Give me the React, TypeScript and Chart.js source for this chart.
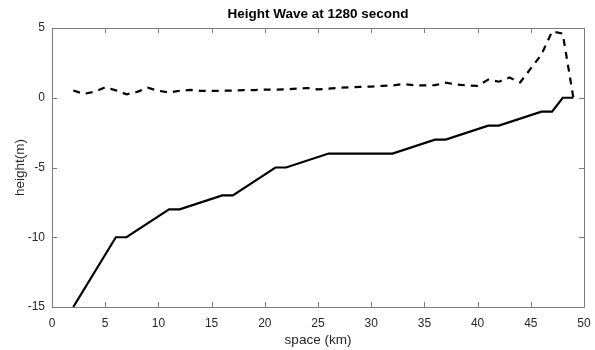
import React, { useEffect, useRef } from "react";
import { Chart, registerables } from "chart.js";

Chart.register(...registerables);

const titleText = "Height Wave at 1280 second";
const xLabel = "space (km)";
const yLabel = "height(m)";

const xTicks = [0, 5, 10, 15, 20, 25, 30, 35, 40, 45, 50];
const yTicks = [-15, -10, -5, 0, 5];

const groundX = [2, 6, 7, 11, 12, 16, 17, 21, 22, 26, 32, 36, 37, 41, 42, 46, 47, 48, 49];
const groundY = [-15, -10, -10, -8, -8, -7, -7, -5, -5, -4, -4, -3, -3, -2, -2, -1, -1, 0, 0];

const waveX = [2, 3, 4, 5, 6, 7, 8, 9, 10, 11, 12, 13, 14, 15, 16, 17, 18, 19, 20, 21, 22, 23, 24, 25,
  26, 27, 28, 29, 30, 31, 32, 33, 34, 35, 36, 37, 38, 39, 40, 41, 42, 43, 44, 45, 46, 47, 48, 49];
const waveY = [0.52, 0.28, 0.43, 0.75, 0.53, 0.25, 0.42, 0.72, 0.5, 0.38, 0.5, 0.56, 0.5, 0.5, 0.5, 0.52, 0.55, 0.55,
  0.58, 0.58, 0.6, 0.65, 0.7, 0.6, 0.65, 0.72, 0.75, 0.78, 0.8, 0.85, 0.88, 0.98, 0.9, 0.88, 0.9, 1.08, 0.95, 0.88,
  0.85, 1.3, 1.15, 1.45, 1.1, 2.1, 3.1, 4.75, 4.6, 0];

const AXIS_COLOR = "#7a7a7a";
const TEXT_COLOR = "#262626";
const FONT = "'Liberation Sans', Arial, sans-serif";

const boxPlugin = {
  id: "matlabBox",
  afterDraw(chart: any) {
    const { ctx, chartArea } = chart;
    const xs = chart.scales.x;
    const ys = chart.scales.y;
    const { left, right, top, bottom } = chartArea;
    const tl = 5;
    ctx.save();
    ctx.strokeStyle = AXIS_COLOR;
    ctx.lineWidth = 1;
    ctx.beginPath();
    ctx.rect(Math.round(left) + 0.5, Math.round(top) + 0.5, Math.round(right - left), Math.round(bottom - top));
    ctx.stroke();
    ctx.beginPath();
    for (const v of xTicks) {
      const px = Math.round(xs.getPixelForValue(v)) + 0.5;
      ctx.moveTo(px, bottom);
      ctx.lineTo(px, bottom - tl);
      ctx.moveTo(px, top);
      ctx.lineTo(px, top + tl);
    }
    for (const v of yTicks) {
      const py = Math.round(ys.getPixelForValue(v)) + 0.5;
      ctx.moveTo(left, py);
      ctx.lineTo(left + tl, py);
      ctx.moveTo(right, py);
      ctx.lineTo(right - tl, py);
    }
    ctx.stroke();
    ctx.restore();
  },
};

export default function App() {
  const ref = useRef<HTMLCanvasElement>(null);
  useEffect(() => {
    if (!ref.current) return;
    const chart = new Chart(ref.current, {
      type: "line",
      data: {
        datasets: [
          {
            label: "ground",
            data: groundX.map((x, i) => ({ x, y: groundY[i] })),
            borderColor: "#000",
            borderWidth: 2.2,
            pointRadius: 0,
            fill: false,
            tension: 0,
          },
          {
            label: "wave",
            data: waveX.map((x, i) => ({ x, y: waveY[i] })),
            borderColor: "#000",
            borderWidth: 2.2,
            borderDash: [7, 6],
            pointRadius: 0,
            fill: false,
            tension: 0,
          },
        ],
      },
      options: {
        animation: false,
        responsive: false,
        devicePixelRatio: 1,
        layout: { padding: { left: 0, right: 11, top: 0, bottom: 0 } },
        plugins: {
          legend: { display: false },
          tooltip: { enabled: false },
          title: {
            display: true,
            fullSize: false,
            text: titleText,
            color: "#000",
            font: { family: FONT, size: 13.5, weight: "bold" },
            padding: { top: 6.5, bottom: 5.3 },
          },
        },
        scales: {
          x: {
            type: "linear",
            min: 0,
            max: 50,
            afterFit: (s: any) => { s.height = 43; s.paddingLeft = 0; s.paddingRight = 0; },
            afterBuildTicks: (s: any) => { s.ticks = xTicks.map((v) => ({ value: v })); },
            grid: { display: false, drawTicks: false },
            border: { display: false },
            ticks: { color: TEXT_COLOR, font: { family: FONT, size: 12 }, padding: 9, maxRotation: 0 },
            title: { display: true, text: xLabel, color: TEXT_COLOR, font: { family: FONT, size: 13.5 }, padding: { top: 0, bottom: 2 } },
          },
          y: {
            type: "linear",
            min: -15,
            max: 5,
            afterFit: (s: any) => { s.width = 52; s.paddingTop = 0; s.paddingBottom = 0; },
            afterBuildTicks: (s: any) => { s.ticks = yTicks.map((v) => ({ value: v })); },
            grid: { display: false, drawTicks: false },
            border: { display: false },
            ticks: { color: TEXT_COLOR, font: { family: FONT, size: 12 }, padding: 7 },
            title: { display: true, text: yLabel, color: TEXT_COLOR, font: { family: FONT, size: 13.5 }, padding: { top: 12, bottom: 0 } },
          },
        },
      },
      plugins: [boxPlugin],
    });
    return () => chart.destroy();
  }, []);
  return (
    <div style={{ position: "fixed", left: 0, top: 0, width: 595, height: 350, background: "#fff" }}>
      <canvas ref={ref} width={595} height={350} style={{ display: "block", width: 595, height: 350 }} />
    </div>
  );
}
